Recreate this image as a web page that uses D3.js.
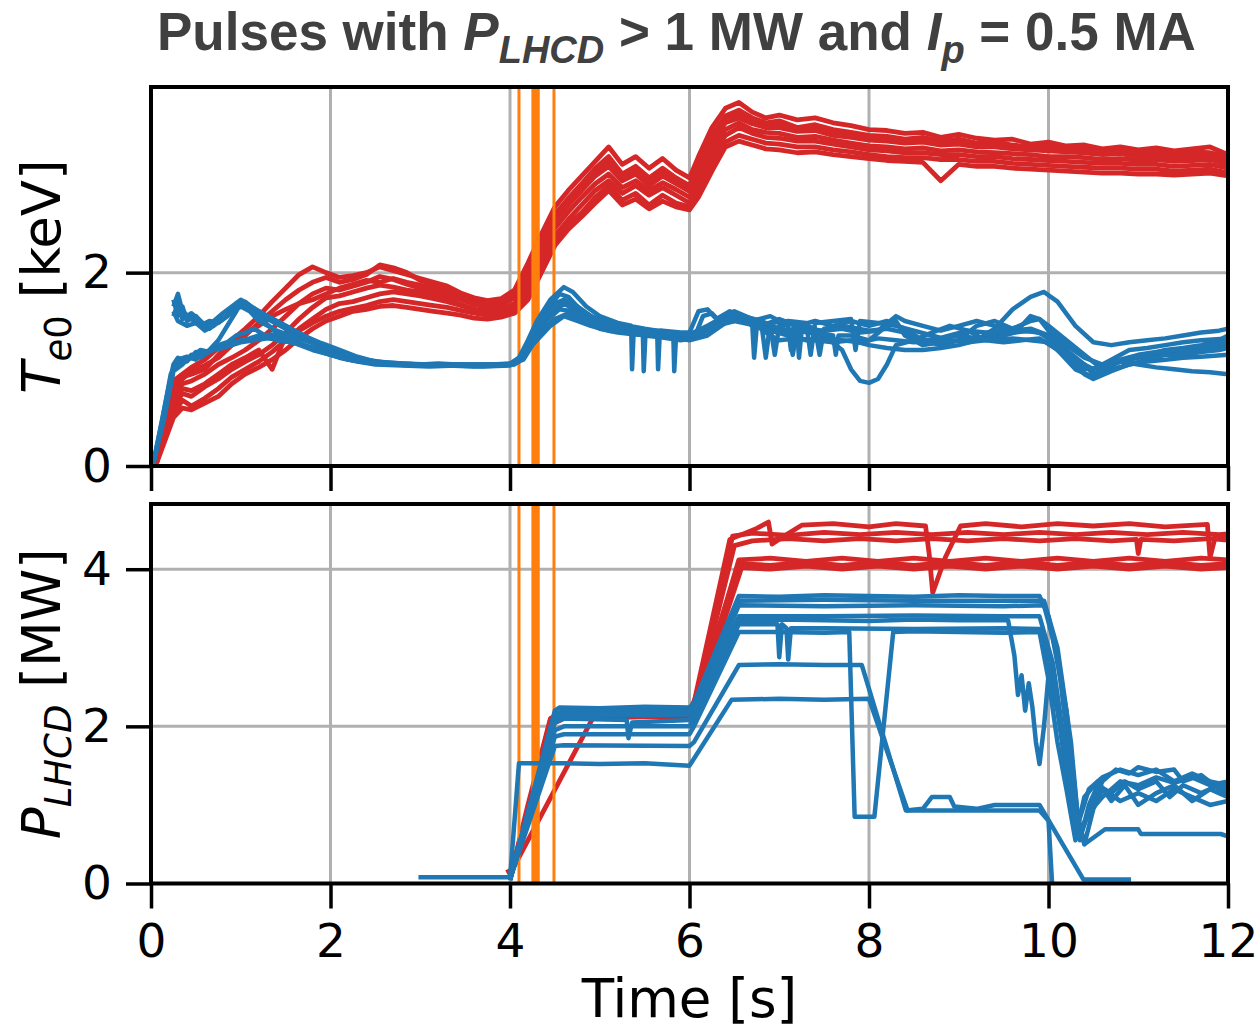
<!DOCTYPE html>
<html><head><meta charset="utf-8">
<script src="https://cdn.jsdelivr.net/npm/d3@7"></script>
<style>body{margin:0;background:#fff;} svg{display:block;}</style>
</head><body>
<svg id="c" width="1260" height="1029"></svg>
<script>
// ---------- ticks / markers ----------
const xTicks = [0, 2, 4, 6, 8, 10, 12];
const teTicks = [0, 2];
const pTicks = [0, 2, 4];
const orangeTimes = [4.1, 4.255, 4.275, 4.295, 4.315, 4.49];

// ---------- Te0, red pulses (shared time base) ----------
const teRedTime = [0.05,0.15,0.25,0.35,0.45,0.6,0.75,0.9,1.05,1.2,
  1.35,1.5,1.65,1.8,1.95,2.1,2.25,2.4,2.55,2.7,
  2.85,3.0,3.15,3.3,3.45,3.6,3.75,3.9,4.05,4.2,
  4.35,4.5,4.65,4.8,4.95,5.1,5.25,5.4,5.55,5.7,
  5.85,6.0,6.1,6.25,6.4,6.55,6.7,6.85,7.0,7.2,
  7.4,7.6,7.8,8.0,8.2,8.4,8.6,8.8,9.0,9.2,
  9.4,9.6,9.8,10.0,10.2,10.4,10.6,10.8,11.0,11.2,
  11.4,11.6,11.8,12.0];
const teRed1 = [0,0.45,0.88,0.95,1.02,1.1,1.22,1.3,1.42,1.55, 1.7,1.84,1.98,2.06,2.0,1.95,1.97,2.0,2.06,2.02, 1.98,1.94,1.9,1.86,1.79,1.74,1.71,1.73,1.82,2.1, 2.4,2.68,2.85,3.0,3.15,3.3,3.12,3.2,3.08,3.18, 3.06,2.98,3.2,3.5,3.7,3.76,3.66,3.6,3.63,3.58, 3.6,3.55,3.52,3.48,3.47,3.44,3.45,3.4,3.43,3.39, 3.37,3.38,3.33,3.35,3.31,3.32,3.28,3.3,3.27,3.29, 3.26,3.28,3.3,3.22];
const teRed2 = [0,0.4,0.8,0.9,0.98,1.04,1.12,1.25,1.35,1.48, 1.6,1.72,1.82,1.9,1.95,1.9,1.93,1.98,2.08,2.05, 2.0,1.92,1.88,1.83,1.77,1.7,1.68,1.7,1.78,2.02, 2.33,2.6,2.77,2.92,3.08,3.2,3.02,3.1,2.98,3.08, 2.98,2.9,3.12,3.42,3.62,3.68,3.6,3.55,3.57,3.5, 3.53,3.48,3.45,3.42,3.41,3.38,3.4,3.36,3.38,3.34, 3.35,3.32,3.3,3.31,3.28,3.29,3.25,3.27,3.24,3.26, 3.23,3.25,3.24,3.2];
const teRed3 = [0,0.35,0.72,0.85,0.88,0.95,1.05,1.12,1.2,1.3, 1.42,1.55,1.68,1.78,1.84,1.82,1.86,1.9,1.96,1.93, 1.88,1.84,1.8,1.76,1.72,1.67,1.64,1.66,1.74,1.95, 2.25,2.53,2.7,2.85,3.0,3.1,2.95,3.02,2.9,3.0, 2.92,2.84,3.05,3.35,3.55,3.6,3.54,3.5,3.5,3.46, 3.47,3.42,3.4,3.37,3.36,3.34,3.35,3.32,3.33,3.3, 3.3,3.28,3.27,3.26,3.25,3.24,3.22,3.23,3.2,3.21, 3.19,3.2,3.21,3.15];
const teRed4 = [0,0.3,0.62,0.75,0.72,0.82,0.9,1.0,1.08,1.15, 1.25,1.38,1.52,1.64,1.74,1.76,1.8,1.84,1.87,1.85, 1.82,1.8,1.76,1.72,1.67,1.62,1.6,1.62,1.68,1.88, 2.17,2.46,2.63,2.78,2.92,3.02,2.88,2.95,2.85,2.93, 2.86,2.78,2.98,3.28,3.48,3.55,3.48,3.45,3.44,3.4, 3.41,3.37,3.34,3.31,3.3,3.28,3.29,3.26,3.27,3.25, 3.24,3.23,3.22,3.2,3.2,3.19,3.17,3.18,3.16,3.17, 3.15,3.16,3.17,3.12];
const teRed5 = [0,0.28,0.55,0.68,0.62,0.7,0.8,0.92,1.0,1.08, 1.18,1.3,1.42,1.52,1.62,1.68,1.7,1.74,1.78,1.8, 1.78,1.76,1.73,1.7,1.66,1.62,1.58,1.6,1.65,1.82, 2.1,2.38,2.55,2.7,2.85,2.95,2.82,2.9,2.8,2.88, 2.8,2.72,2.9,3.2,3.42,3.5,3.44,3.4,3.39,3.36, 3.36,3.33,3.3,3.27,3.26,3.24,3.24,3.22,3.22,3.2, 3.2,3.18,3.17,3.16,3.15,3.14,3.13,3.13,3.12,3.12, 3.1,3.11,3.12,3.08];
const teRed6 = [0,0.32,0.68,0.8,0.78,0.85,0.95,1.05,1.12,1.2, 1.0,1.35,1.4,1.48,1.55,1.6,1.63,1.66,1.7,1.72, 1.7,1.68,1.66,1.64,1.61,1.58,1.56,1.58,1.62,1.78, 2.05,2.33,2.5,2.62,2.78,2.9,2.75,2.82,2.7,2.8, 2.72,2.68,2.84,3.12,3.35,3.42,3.38,3.34,3.33,3.3, 3.3,3.27,3.25,3.22,3.2,3.19,3.19,3.17,3.17,3.15, 3.15,3.13,3.12,3.11,3.1,3.09,3.08,3.08,3.07,3.07, 3.05,3.06,3.07,3.03];
const teRed7 = [0,0.25,0.5,0.6,0.58,0.65,0.72,0.85,0.95,1.02, 1.1,1.2,1.32,1.42,1.5,1.55,1.6,1.62,1.65,1.66, 1.64,1.62,1.6,1.58,1.56,1.53,1.52,1.54,1.58,1.72, 2.0,2.28,2.45,2.58,2.72,2.85,2.7,2.76,2.66,2.74, 2.68,2.65,2.78,3.05,3.3,3.36,3.32,3.28,3.27,3.24, 3.25,3.22,3.2,3.18,3.16,3.15,3.14,2.95,3.12,3.1, 3.1,3.08,3.07,3.06,3.05,3.04,3.03,3.03,3.02,3.02, 3.01,3.02,3.03,3.0];
const teRed8 = [0,0.42,0.82,0.92,0.95,1.0,1.15,1.28,1.38,1.45, 1.55,1.62,1.68,1.72,1.78,1.84,1.88,1.92,1.9,1.94, 1.9,1.87,1.84,1.8,1.75,1.7,1.66,1.68,1.76,1.98, 2.3,2.58,2.75,2.9,3.05,3.15,3.0,3.06,2.95,3.04, 2.95,2.88,3.1,3.4,3.6,3.64,3.56,3.52,3.53,3.48, 3.5,3.45,3.42,3.4,3.39,3.36,3.37,3.34,3.35,3.32, 3.32,3.3,3.28,3.29,3.26,3.27,3.23,3.25,3.22,3.24, 3.21,3.23,3.22,3.18];

// ---------- Te0, blue pulses ([t, keV]) ----------
const teBlue1 = [[0.25,1.72],[0.3,1.55],[0.35,1.65],[0.4,1.5],[0.5,1.55],[0.6,1.45],[0.7,1.5],[0.8,1.58],[0.9,1.65],[1.0,1.72],[1.1,1.66],[1.2,1.6],[1.4,1.5],[1.6,1.4],[1.8,1.3],[2.0,1.22],[2.2,1.15],[2.4,1.1],[2.6,1.07],[2.8,1.06],[3.0,1.05],[3.2,1.06],[3.4,1.05],[3.6,1.05],[3.8,1.05],[4.0,1.06],[4.1,1.12],[4.2,1.3],[4.3,1.5],[4.45,1.72],[4.6,1.85],[4.7,1.8],[4.85,1.65],[5.0,1.55],[5.2,1.48],[5.35,1.45],[5.36,1.0],[5.38,1.44],[5.5,1.42],[5.64,1.4],[5.65,1.0],[5.67,1.4],[5.8,1.38],[6.0,1.36],[6.2,1.45],[6.4,1.55],[6.5,1.6],[6.7,1.52],[6.9,1.45],[6.95,1.15],[7.0,1.45],[7.2,1.48],[7.4,1.42],[7.45,1.15],[7.5,1.42],[7.7,1.45],[8.0,1.4],[8.2,1.42],[8.4,1.38],[8.6,1.3],[8.8,1.32],[9.0,1.35],[9.2,1.32],[9.4,1.35],[9.6,1.38],[9.8,1.4],[10.0,1.35],[10.2,1.2],[10.4,1.05],[10.5,0.95],[10.7,1.05],[10.9,1.12],[11.1,1.15],[11.3,1.2],[11.5,1.22],[11.7,1.25],[11.9,1.3],[12.0,1.35]];
const teBlue2 = [[0.25,1.65],[0.3,1.78],[0.35,1.6],[0.45,1.52],[0.55,1.45],[0.65,1.5],[0.75,1.48],[0.85,1.55],[0.95,1.68],[1.05,1.7],[1.15,1.62],[1.3,1.52],[1.5,1.42],[1.7,1.32],[1.9,1.25],[2.1,1.17],[2.3,1.1],[2.5,1.07],[2.8,1.05],[3.1,1.04],[3.4,1.05],[3.7,1.04],[4.0,1.05],[4.1,1.1],[4.2,1.25],[4.3,1.42],[4.4,1.6],[4.55,1.78],[4.65,1.75],[4.8,1.6],[5.0,1.5],[5.2,1.42],[5.4,1.38],[5.48,1.38],[5.49,0.98],[5.51,1.38],[5.7,1.35],[5.82,1.34],[5.83,0.98],[5.85,1.34],[6.0,1.32],[6.2,1.42],[6.4,1.5],[6.55,1.55],[6.7,1.45],[6.72,1.12],[6.75,1.45],[6.9,1.42],[7.1,1.38],[7.15,1.15],[7.2,1.4],[7.5,1.35],[7.7,1.2],[7.8,1.0],[7.9,0.88],[8.0,0.86],[8.1,0.9],[8.2,1.05],[8.3,1.25],[8.5,1.3],[8.7,1.38],[8.9,1.45],[9.1,1.4],[9.3,1.3],[9.5,1.28],[9.7,1.3],[9.9,1.32],[10.1,1.2],[10.3,1.0],[10.5,0.92],[10.7,1.0],[10.9,1.05],[11.1,1.08],[11.3,1.1],[11.5,1.12],[11.7,1.13],[12.0,1.15]];
const teBlue3 = [[0.02,0],[0.15,0.6],[0.25,1.05],[0.3,1.12],[0.4,1.08],[0.5,1.18],[0.6,1.15],[0.7,1.22],[0.8,1.25],[0.9,1.27],[1.0,1.3],[1.1,1.32],[1.2,1.35],[1.35,1.36],[1.5,1.33],[1.7,1.25],[1.9,1.18],[2.1,1.12],[2.3,1.08],[2.5,1.05],[2.8,1.04],[3.1,1.03],[3.4,1.04],[3.7,1.03],[4.0,1.04],[4.1,1.08],[4.2,1.2],[4.3,1.3],[4.45,1.45],[4.6,1.55],[4.75,1.5],[4.9,1.45],[5.1,1.4],[5.3,1.38],[5.5,1.35],[5.7,1.33],[5.9,1.3],[6.05,1.32],[6.15,1.55],[6.25,1.58],[6.35,1.48],[6.5,1.55],[6.7,1.48],[6.9,1.35],[7.0,1.3],[7.2,1.32],[7.4,1.3],[7.6,1.28],[7.8,1.3],[8.0,1.25],[8.2,1.22],[8.4,1.2],[8.6,1.2],[8.8,1.22],[9.0,1.25],[9.2,1.3],[9.4,1.42],[9.6,1.62],[9.8,1.75],[9.95,1.8],[10.1,1.7],[10.3,1.45],[10.5,1.28],[10.7,1.25],[10.9,1.28],[11.1,1.3],[11.3,1.32],[11.5,1.35],[11.7,1.38],[11.9,1.4],[12.0,1.42]];
const teBlue4 = [[0.02,0],[0.15,0.55],[0.25,1.0],[0.35,1.1],[0.45,1.12],[0.55,1.2],[0.65,1.18],[0.75,1.25],[0.85,1.28],[0.95,1.35],[1.05,1.38],[1.15,1.42],[1.25,1.36],[1.4,1.3],[1.6,1.28],[1.8,1.22],[2.0,1.15],[2.2,1.1],[2.4,1.07],[2.7,1.05],[3.0,1.04],[3.3,1.05],[3.6,1.04],[3.9,1.05],[4.05,1.06],[4.15,1.15],[4.25,1.32],[4.35,1.45],[4.5,1.6],[4.6,1.68],[4.75,1.6],[4.9,1.5],[5.1,1.45],[5.3,1.42],[5.5,1.4],[5.7,1.38],[5.9,1.35],[6.1,1.38],[6.3,1.5],[6.5,1.58],[6.6,1.55],[6.8,1.45],[7.0,1.52],[7.2,1.45],[7.4,1.5],[7.6,1.45],[7.8,1.5],[8.0,1.45],[8.2,1.5],[8.4,1.42],[8.6,1.3],[8.8,1.25],[9.0,1.3],[9.2,1.45],[9.4,1.5],[9.6,1.42],[9.8,1.5],[9.9,1.52],[10.0,1.45],[10.2,1.3],[10.4,1.15],[10.6,1.0],[10.8,1.08],[11.0,1.12],[11.2,1.15],[11.4,1.18],[11.6,1.2],[11.8,1.22],[12.0,1.25]];
const teBlue5 = [[0.25,1.6],[0.3,1.5],[0.4,1.45],[0.5,1.48],[0.6,1.4],[0.7,1.45],[0.8,1.52],[0.9,1.6],[1.0,1.65],[1.1,1.6],[1.2,1.5],[1.4,1.4],[1.6,1.33],[1.8,1.27],[2.0,1.2],[2.2,1.13],[2.4,1.08],[2.7,1.06],[3.0,1.05],[3.3,1.04],[3.6,1.05],[3.9,1.04],[4.05,1.05],[4.15,1.12],[4.25,1.3],[4.35,1.4],[4.5,1.52],[4.65,1.58],[4.8,1.5],[5.0,1.42],[5.2,1.38],[5.4,1.36],[5.6,1.35],[5.8,1.33],[6.0,1.3],[6.2,1.35],[6.4,1.48],[6.6,1.52],[6.8,1.48],[6.85,1.12],[6.9,1.48],[7.1,1.5],[7.3,1.48],[7.35,1.15],[7.4,1.48],[7.6,1.5],[7.8,1.52],[7.85,1.2],[7.9,1.5],[8.1,1.48],[8.3,1.45],[8.5,1.4],[8.7,1.35],[8.9,1.3],[9.1,1.28],[9.3,1.3],[9.5,1.35],[9.7,1.4],[9.9,1.38],[10.1,1.25],[10.3,1.1],[10.5,1.0],[10.7,1.1],[10.9,1.2],[11.1,1.22],[11.3,1.25],[11.5,1.28],[11.7,1.3],[12.0,1.32]];
const teBlue6 = [[0.02,0],[0.15,0.5],[0.25,0.98],[0.35,1.05],[0.45,1.15],[0.55,1.12],[0.65,1.2],[0.75,1.3],[0.85,1.45],[0.95,1.6],[1.0,1.7],[1.1,1.62],[1.25,1.5],[1.4,1.38],[1.55,1.3],[1.7,1.25],[1.9,1.2],[2.1,1.15],[2.3,1.1],[2.5,1.06],[2.8,1.05],[3.1,1.05],[3.4,1.04],[3.7,1.05],[4.0,1.05],[4.1,1.1],[4.2,1.22],[4.3,1.35],[4.4,1.5],[4.55,1.62],[4.7,1.6],[4.85,1.5],[5.0,1.45],[5.2,1.4],[5.4,1.38],[5.6,1.36],[5.8,1.35],[6.0,1.35],[6.2,1.4],[6.4,1.5],[6.55,1.55],[6.7,1.5],[6.9,1.55],[7.1,1.45],[7.13,1.2],[7.16,1.45],[7.3,1.42],[7.5,1.4],[7.7,1.42],[7.9,1.38],[8.1,1.4],[8.3,1.55],[8.4,1.5],[8.6,1.45],[8.8,1.4],[9.0,1.45],[9.2,1.5],[9.4,1.45],[9.6,1.4],[9.8,1.42],[10.0,1.35],[10.2,1.15],[10.4,1.0],[10.6,1.02],[10.8,1.08],[11.0,1.05],[11.2,1.02],[11.4,1.0],[11.6,0.98],[11.8,0.97],[12.0,0.95]];
const teBlue7 = [[0.25,1.55],[0.3,1.68],[0.35,1.52],[0.45,1.58],[0.55,1.5],[0.65,1.42],[0.75,1.5],[0.85,1.55],[0.95,1.62],[1.05,1.68],[1.15,1.63],[1.3,1.55],[1.5,1.45],[1.7,1.35],[1.9,1.27],[2.1,1.2],[2.3,1.13],[2.5,1.08],[2.8,1.06],[3.1,1.05],[3.4,1.05],[3.7,1.04],[4.0,1.05],[4.15,1.1],[4.25,1.25],[4.3,1.35],[4.4,1.55],[4.5,1.68],[4.6,1.72],[4.75,1.65],[4.9,1.55],[5.1,1.47],[5.3,1.42],[5.5,1.4],[5.7,1.4],[5.9,1.38],[6.0,1.38],[6.1,1.6],[6.2,1.62],[6.3,1.52],[6.45,1.6],[6.6,1.55],[6.8,1.5],[7.0,1.42],[7.2,1.4],[7.22,1.12],[7.25,1.4],[7.4,1.38],[7.6,1.35],[7.63,1.15],[7.66,1.35],[7.8,1.35],[8.0,1.3],[8.2,1.45],[8.3,1.5],[8.4,1.35],[8.6,1.25],[8.8,1.28],[9.0,1.3],[9.2,1.33],[9.4,1.3],[9.6,1.32],[9.8,1.3],[10.0,1.28],[10.2,1.12],[10.4,0.95],[10.5,0.9],[10.7,0.98],[10.9,1.05],[11.1,1.1],[11.3,1.15],[11.5,1.15],[11.7,1.18],[11.9,1.2],[12.0,1.22]];
const teBlue8 = [[0.02,0],[0.12,0.45],[0.22,0.95],[0.3,1.1],[0.4,1.13],[0.5,1.1],[0.6,1.18],[0.7,1.2],[0.8,1.22],[0.9,1.25],[1.0,1.28],[1.15,1.3],[1.3,1.32],[1.45,1.3],[1.6,1.27],[1.8,1.2],[2.0,1.15],[2.2,1.1],[2.4,1.07],[2.7,1.05],[3.0,1.04],[3.3,1.04],[3.6,1.03],[3.9,1.04],[4.05,1.06],[4.15,1.18],[4.25,1.38],[4.35,1.5],[4.5,1.65],[4.6,1.72],[4.75,1.65],[4.9,1.55],[5.1,1.45],[5.3,1.43],[5.5,1.4],[5.7,1.38],[5.9,1.36],[6.1,1.35],[6.3,1.45],[6.5,1.5],[6.7,1.46],[6.9,1.4],[7.1,1.35],[7.3,1.3],[7.5,1.32],[7.7,1.3],[7.9,1.28],[8.1,1.32],[8.3,1.3],[8.5,1.28],[8.7,1.3],[8.9,1.35],[9.1,1.4],[9.3,1.38],[9.5,1.4],[9.7,1.45],[9.8,1.55],[9.9,1.52],[10.0,1.4],[10.2,1.25],[10.4,1.12],[10.6,1.05],[10.8,1.1],[11.0,1.15],[11.2,1.18],[11.4,1.2],[11.6,1.22],[11.8,1.25],[12.0,1.28]];

// ---------- P_LHCD, red pulses ([t, MW]) ----------
const pRed1 = [[4.0,0.08],[4.2,0.95],[4.45,2.08],[4.6,2.16],[5.0,2.19],[5.5,2.16],[6.0,2.2],[6.05,2.3],[6.45,4.38],[6.6,4.45],[6.75,4.52],[6.88,4.6],[6.92,4.32],[7.05,4.42],[7.25,4.56],[7.6,4.58],[8.0,4.54],[8.3,4.58],[8.63,4.55],[8.67,4.2],[8.71,3.7],[8.85,4.15],[9.02,4.55],[9.3,4.58],[9.7,4.54],[10.1,4.58],[10.5,4.55],[10.9,4.58],[11.3,4.54],[11.77,4.57],[11.8,4.15],[11.86,4.42],[12.0,4.4]];
const pRed2 = [[4.0,0.06],[4.2,1.0],[4.45,2.1],[4.6,2.18],[5.5,2.2],[6.0,2.18],[6.08,2.4],[6.48,4.42],[6.7,4.46],[7.1,4.43],[7.5,4.47],[7.9,4.44],[8.3,4.47],[8.7,4.44],[9.1,4.47],[9.5,4.44],[9.9,4.47],[10.3,4.44],[10.7,4.47],[11.1,4.44],[11.5,4.47],[11.9,4.44],[12.0,4.45]];
const pRed3 = [[4.0,0.05],[4.2,0.92],[4.45,2.06],[4.6,2.14],[5.5,2.15],[6.0,2.15],[6.08,2.35],[6.5,4.3],[6.7,4.36],[7.1,4.39],[7.5,4.36],[7.9,4.39],[8.3,4.36],[8.7,4.39],[9.1,4.36],[9.5,4.39],[9.9,4.36],[10.3,4.39],[10.7,4.36],[10.98,4.38],[11.0,4.2],[11.03,4.38],[11.4,4.36],[11.8,4.39],[12.0,4.37]];
const pRed4 = [[4.0,0.05],[4.2,0.9],[4.45,2.02],[4.6,2.1],[5.5,2.12],[6.0,2.12],[6.08,2.3],[6.55,4.12],[6.9,4.14],[7.3,4.1],[7.7,4.14],[8.1,4.1],[8.5,4.14],[8.9,4.1],[9.3,4.14],[9.7,4.1],[10.1,4.14],[10.5,4.1],[10.9,4.14],[11.3,4.1],[11.7,4.14],[12.0,4.12]];
const pRed5 = [[3.97,0.18],[4.0,0.12],[4.93,2.12],[5.2,2.16],[5.6,2.18],[6.0,2.2],[6.08,2.38],[6.55,4.07],[6.9,4.05],[7.3,4.09],[7.7,4.05],[8.1,4.09],[8.5,4.05],[8.9,4.09],[9.3,4.05],[9.7,4.09],[10.1,4.05],[10.5,4.09],[10.9,4.05],[11.3,4.09],[11.7,4.05],[12.0,4.07]];
const pRed6 = [[4.0,0.05],[4.2,0.95],[4.45,2.04],[4.6,2.12],[6.0,2.14],[6.08,2.28],[6.58,4.02],[6.9,4.0],[7.3,4.04],[7.7,4.0],[8.1,4.04],[8.5,4.0],[8.9,4.04],[9.3,4.0],[9.7,4.04],[10.1,4.0],[10.5,4.04],[10.9,4.0],[11.3,4.04],[11.7,4.0],[12.0,4.02]];

// ---------- P_LHCD, blue pulses ([t, MW]) ----------
const pBlue1 = [[4.0,0.05],[4.5,2.2],[4.55,2.24],[5.0,2.23],[5.5,2.25],[6.0,2.24],[6.05,2.3],[6.55,3.66],[7.0,3.65],[7.5,3.67],[8.0,3.66],[8.5,3.65],[9.0,3.67],[9.5,3.66],[9.9,3.66],[10.0,3.4],[10.2,2.2],[10.35,0.6],[10.45,0.9],[10.6,1.3],[10.75,1.45],[10.9,1.4],[11.0,1.48],[11.2,1.42],[11.4,1.45],[11.5,1.3],[11.7,1.38],[11.9,1.2],[12.0,1.15]];
const pBlue2 = [[4.0,0.06],[4.5,2.15],[4.6,2.2],[5.5,2.2],[6.0,2.2],[6.05,2.25],[6.55,3.6],[7.5,3.61],[8.5,3.6],[9.5,3.6],[9.95,3.6],[10.1,3.0],[10.25,1.8],[10.35,0.55],[10.45,1.0],[10.55,1.25],[10.7,1.15],[10.85,1.3],[11.0,1.2],[11.2,1.3],[11.35,1.1],[11.5,1.25],[11.7,1.15],[11.9,1.25],[12.0,1.2]];
const pBlue3 = [[4.0,0.05],[4.5,2.1],[4.6,2.15],[5.5,2.14],[6.0,2.15],[6.05,2.2],[6.55,3.54],[7.5,3.53],[8.5,3.54],[9.5,3.53],[9.95,3.54],[10.1,2.9],[10.3,1.0],[10.4,0.5],[10.5,0.95],[10.6,1.2],[10.8,1.05],[11.0,1.15],[11.2,1.05],[11.4,1.2],[11.6,1.1],[11.8,1.0],[12.0,1.05]];
const pBlue4 = [[4.0,0.04],[4.5,2.05],[4.6,2.1],[5.3,2.08],[5.32,1.85],[5.36,2.05],[6.0,2.08],[6.05,2.15],[6.55,3.35],[7.0,3.36],[7.5,3.35],[8.0,3.34],[8.5,3.36],[9.0,3.35],[9.55,3.35],[9.62,2.9],[9.66,2.4],[9.7,2.65],[9.74,2.2],[9.78,2.55],[9.82,2.25],[9.86,1.8],[9.9,1.52],[9.95,2.0],[10.0,2.65],[10.1,2.2],[10.2,1.4],[10.3,0.6],[10.4,1.1],[10.55,1.3],[10.7,1.05],[10.85,1.25],[11.0,1.0],[11.2,1.15],[11.4,1.25],[11.6,1.05],[11.8,1.2],[12.0,1.1]];
const pBlue5 = [[4.0,0.05],[4.5,1.95],[4.6,2.0],[6.0,2.0],[6.05,2.1],[6.55,3.3],[6.98,3.3],[7.0,2.88],[7.03,3.3],[7.08,3.25],[7.1,2.85],[7.13,3.25],[7.5,3.25],[8.5,3.24],[9.5,3.25],[9.9,3.24],[10.05,2.6],[10.2,1.5],[10.3,0.9],[10.4,0.5],[10.63,0.69],[11.0,0.69],[11.03,0.63],[11.92,0.63],[12.0,0.6]];
const pBlue6 = [[4.0,0.05],[4.5,1.87],[4.6,1.9],[6.0,1.9],[6.05,2.0],[6.55,3.2],[7.0,3.2],[7.5,3.19],[7.78,3.2],[7.84,0.85],[8.06,0.85],[8.27,3.2],[8.5,3.21],[9.0,3.2],[9.5,3.19],[9.9,3.2],[10.0,2.6],[10.1,1.8],[10.2,1.2],[10.3,0.55],[10.45,0.9],[10.6,1.1],[10.8,1.3],[11.0,1.25],[11.2,1.35],[11.4,1.28],[11.6,1.35],[11.8,1.25],[12.0,1.3]];
const pBlue7 = [[4.0,0.06],[4.5,1.75],[4.6,1.76],[6.0,1.75],[6.05,1.8],[6.55,2.78],[7.0,2.79],[7.5,2.78],[7.92,2.78],[8.41,0.93],[8.6,0.95],[8.7,1.1],[8.9,1.1],[8.95,0.98],[9.2,0.95],[9.4,1.0],[9.6,1.0],[9.9,1.0],[10.39,0.05],[10.92,0.05]];
const pBlue8 = [[4.0,0.06],[4.1,1.53],[4.6,1.53],[5.0,1.52],[5.5,1.53],[6.0,1.5],[6.47,2.34],[7.0,2.35],[7.5,2.34],[8.0,2.35],[8.43,0.93],[8.8,0.93],[9.2,0.93],[9.6,0.93],[9.9,0.93],[10.0,0.8],[10.04,0.0]];
const pBlue9 = [[2.98,0.08],[4.0,0.08],[4.5,2.12],[4.6,2.16],[6.0,2.16],[6.05,2.2],[6.55,3.4],[7.5,3.4],[8.5,3.41],[9.5,3.4],[9.9,3.4],[10.05,2.8],[10.2,1.6],[10.3,0.65],[10.45,1.2],[10.6,1.35],[10.8,1.45],[11.0,1.38],[11.2,1.45],[11.4,1.3],[11.6,1.4],[11.8,1.3],[12.0,1.25]];

// ---------- drawing ----------
const RED = '#d62728', BLUE = '#1f77b4', ORANGE = '#ff7f0e', GRID = '#b0b0b0';
const svg = d3.select('#c');
const x = d3.scaleLinear().domain([0, 12]).range([151, 1228]);
const yTe = d3.scaleLinear().domain([0, 3.92]).range([466, 87]);
const yP = d3.scaleLinear().domain([0, 4.83]).range([883.5, 504]);

const teRed = [teRed1, teRed2, teRed3, teRed4, teRed5, teRed6, teRed7, teRed8]
  .map(vals => vals.map((v, i) => [teRedTime[i], v]));
const teBlue = [teBlue1, teBlue2, teBlue3, teBlue4, teBlue5, teBlue6, teBlue7, teBlue8];
const pRed = [pRed1, pRed2, pRed3, pRed4, pRed5, pRed6];
const pBlue = [pBlue1, pBlue2, pBlue3, pBlue4, pBlue5, pBlue6, pBlue7, pBlue8, pBlue9];

const defs = svg.append('defs');

function panel(id, y, yTicks, redSet, blueSet, xLabels) {
  const [y0, y1] = y.range();
  const g = svg.append('g');
  defs.append('clipPath').attr('id', 'clip' + id)
    .append('rect').attr('x', x(0)).attr('y', y1).attr('width', x(12) - x(0)).attr('height', y0 - y1);

  // grid
  g.selectAll('.gx').data(xTicks).join('line')
    .attr('x1', d => x(d)).attr('x2', d => x(d)).attr('y1', y0).attr('y2', y1)
    .attr('stroke', GRID).attr('stroke-width', 3);
  g.selectAll('.gy').data(yTicks).join('line')
    .attr('x1', x(0)).attr('x2', x(12)).attr('y1', d => y(d)).attr('y2', d => y(d))
    .attr('stroke', GRID).attr('stroke-width', 3);

  const line = d3.line().x(d => x(d[0])).y(d => y(d[1]));
  const data = g.append('g').attr('clip-path', `url(#clip${id})`);
  data.selectAll('path.r').data(redSet).join('path')
    .attr('d', line).attr('fill', 'none').attr('stroke', RED)
    .attr('stroke-width', 4.8).attr('stroke-linejoin', 'round');
  data.selectAll('line.o').data(orangeTimes).join('line')
    .attr('x1', d => x(d)).attr('x2', d => x(d)).attr('y1', y0).attr('y2', y1)
    .attr('stroke', ORANGE).attr('stroke-width', 3);
  data.selectAll('path.b').data(blueSet).join('path')
    .attr('d', line).attr('fill', 'none').attr('stroke', BLUE)
    .attr('stroke-width', 4.5).attr('stroke-linejoin', 'round');

  // spines
  g.append('rect').attr('x', x(0)).attr('y', y1).attr('width', x(12) - x(0)).attr('height', y0 - y1)
    .attr('fill', 'none').attr('stroke', '#000').attr('stroke-width', 4);

  // axes
  const ax = g.append('g').attr('transform', `translate(0,${y0})`)
    .call(d3.axisBottom(x).tickValues(xTicks).tickSize(25).tickSizeOuter(0).tickPadding(15)
      .tickFormat(xLabels ? d3.format('d') : () => ''));
  const ay = g.append('g').attr('transform', `translate(${x(0)},0)`)
    .call(d3.axisLeft(y).tickValues(yTicks).tickSize(25).tickSizeOuter(0).tickPadding(14)
      .tickFormat(d3.format('d')));
  [ax, ay].forEach(a => {
    a.select('.domain').remove();
    a.selectAll('.tick line').attr('stroke', '#000').attr('stroke-width', 3.5);
    a.selectAll('.tick text').attr('fill', '#000')
      .style('font-family', 'DejaVu Sans').style('font-size', '47px');
  });
}

panel('te', yTe, teTicks, teRed, teBlue, false);
panel('p', yP, pTicks, pRed, pBlue, true);

// y labels
function ylabel(cy, main, rest, subParts) {
  const t = svg.append('text')
    .attr('transform', `translate(60,${cy}) rotate(-90)`)
    .attr('text-anchor', 'middle')
    .style('font-family', 'DejaVu Sans').style('font-size', '53px').attr('fill', '#000');
  t.append('tspan').style('font-style', 'italic').text(main);
  subParts.forEach((p, i) => {
    const s = t.append('tspan').style('font-size', '37px').text(p[0]);
    if (p[1]) s.style('font-style', 'italic');
    if (i === 0) s.attr('dy', 11);
  });
  t.append('tspan').attr('dy', -11).text(rest);
}
ylabel((yTe(0) + yTe(3.92)) / 2, 'T', '\u00a0[keV]', [['e', true], ['0', false]]);
ylabel((yP(0) + yP(4.83)) / 2, 'P', '\u00a0[MW]', [['LHCD', true]]);

// x label
svg.append('text').attr('x', (x(0) + x(12)) / 2).attr('y', 1017).attr('text-anchor', 'middle')
  .style('font-family', 'DejaVu Sans').style('font-size', '53px').attr('fill', '#000').text('Time [s]');

// title
const title = svg.append('text').attr('x', 157).attr('y', 50)
  .style('font-family', 'Liberation Sans, Arial, sans-serif').style('font-weight', 'bold')
  .style('font-size', '53px').attr('fill', '#404040');
title.append('tspan').text('Pulses with ');
title.append('tspan').style('font-style', 'italic').text('P');
title.append('tspan').style('font-style', 'italic').style('font-size', '38px').attr('dy', 13).text('LHCD');
title.append('tspan').attr('dy', -13).text(' > 1 MW and ');
title.append('tspan').style('font-style', 'italic').text('I');
title.append('tspan').style('font-style', 'italic').style('font-size', '38px').attr('dy', 13).text('p');
title.append('tspan').attr('dy', -13).text(' = 0.5 MA');
</script>
</body></html>
